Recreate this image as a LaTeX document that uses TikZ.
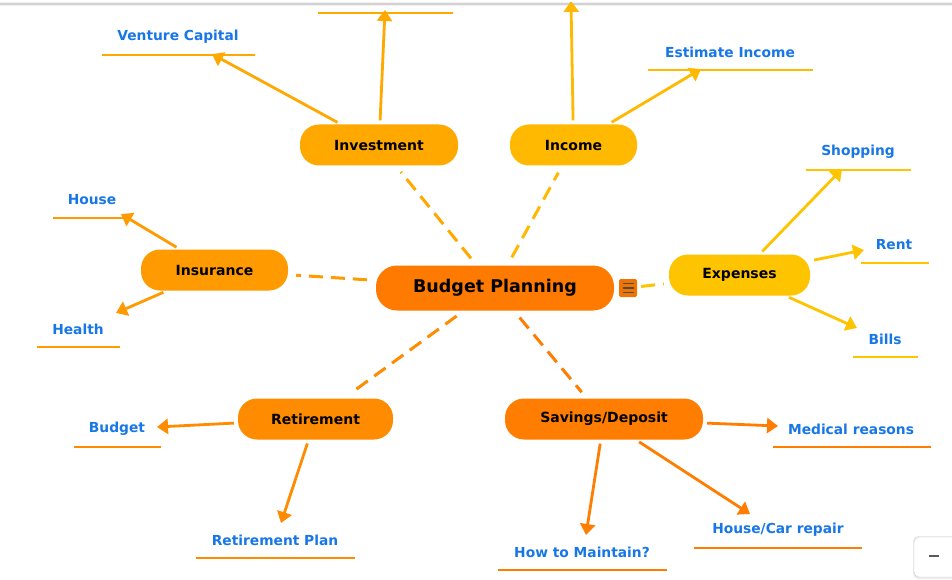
\documentclass[tikz,border=0pt]{standalone}
\usepackage{fontspec}
\setmainfont{DejaVu Sans}
\usetikzlibrary{arrows.meta}
\definecolor{cInv}{HTML}{FFA800}
\definecolor{cInc}{HTML}{FFB900}
\definecolor{cExp}{HTML}{FFC400}
\definecolor{cIns}{HTML}{FF9A00}
\definecolor{cRet}{HTML}{FF8B00}
\definecolor{cSav}{HTML}{FF7D00}
\definecolor{cCen}{HTML}{FF7A00}
\definecolor{cIcon}{HTML}{F27400}
\definecolor{cBlue}{HTML}{1877E6}
\tikzset{
  topic/.style={fill=#1, draw=none, rounded corners=19pt, minimum height=41pt,
    inner sep=0pt, text=black, font=\fontsize{14}{16}\selectfont\bfseries},
  leaf/.style={inner sep=0pt, text=cBlue, font=\fontsize{13.8}{16}\selectfont\bfseries},
  ul/.style={draw=#1, line width=2pt},
  dashlink/.style={draw=#1, line width=3pt, dash pattern=on 14pt off 8pt,
    shorten <=9pt, shorten >=8pt},
  arr/.style={draw=#1, line width=2.8pt, shorten <=4pt,
    -{Triangle[length=11pt,width=15pt]}},
}
\begin{document}
\begin{tikzpicture}[x=1pt,y=-1pt]
\useasboundingbox (0,0) rectangle (952,580);
\fill[white] (0,0) rectangle (952,580);
% top border
\fill[gray!12] (0,2) rectangle (952,6);
\draw[gray!35, line width=1.2pt] (0,4) -- (952,4);

% central topic
\node[topic=cCen, rounded corners=21pt, minimum width=238pt, minimum height=45pt,
  font=\fontsize{17.5}{20}\selectfont\bfseries] (center) at (495,288) {Budget Planning};
\node[fill=cIcon, rounded corners=2pt, minimum width=18pt, minimum height=18pt, inner sep=0pt] (icon) at (628,288) {};
\draw[black!70, line width=1.6pt] (622.5,283.5) -- (633.5,283.5) (622.5,288) -- (633.5,288) (622.5,292.5) -- (633.5,292.5);

% main topics
\node[topic=cInv, minimum width=158pt] (inv) at (379,145) {Investment};
\node[topic=cInc, minimum width=127pt] (inc) at (573.5,145) {Income};
\node[topic=cIns, minimum width=147pt] (ins) at (214.5,270) {Insurance};
\node[topic=cExp, minimum width=141pt] (exp) at (739.5,275) {Expenses};
\node[topic=cRet, minimum width=155pt] (ret) at (315.5,419) {Retirement};
\node[topic=cSav, minimum width=198pt] (sav) at (604,419) {Savings/Deposit};

% dashed links
\draw[dashlink=cInv] (center) -- (inv);
\draw[dashlink=cInc] (center) -- (inc);
\draw[dashlink=cIns] (center) -- (ins);
\draw[dashlink=cRet] (center) -- (ret);
\draw[dashlink=cSav] (center) -- (sav);
\draw[dashlink=cExp, shorten <=4pt, shorten >=5pt] (icon) -- (exp);

% leaves
\node[leaf] (vc) at (178,37) {Venture Capital};
\draw[ul=cInv] (102,55) -- (255,55);
\draw[ul=cInv] (318,13) -- (453,13);
\node[leaf] (ei) at (730,52) {Estimate Income};
\draw[ul=cInc] (648,70) -- (813,70);
\node[leaf] (shop) at (858,152) {Shopping};
\draw[ul=cExp] (806,170) -- (911,170);
\node[leaf] (rent) at (894,245) {Rent};
\draw[ul=cExp] (861,263) -- (929,263);
\node[leaf] (bills) at (885,339) {Bills};
\draw[ul=cExp] (853,357) -- (918,357);
\node[leaf] (house) at (92,200) {House};
\draw[ul=cIns] (53,218) -- (127,218);
\node[leaf] (health) at (78,329) {Health};
\draw[ul=cIns] (37,347) -- (120,347);
\node[leaf] (budget) at (117,429) {Budget};
\draw[ul=cRet] (74,447) -- (161,447);
\node[leaf] (rp) at (275,540) {Retirement Plan};
\draw[ul=cRet] (196,558) -- (355,558);
\node[leaf] (htm) at (582,552) {How to Maintain?};
\draw[ul=cSav] (498,570) -- (667,570);
\node[leaf] (hcr) at (778,530) {House/Car repair};
\draw[ul=cSav] (694,548) -- (862,548);
\node[leaf] (med) at (851,429) {Medical reasons};
\draw[ul=cSav] (773,447) -- (931,447);

% arrow end points
\coordinate (tVc) at (212,54);
\coordinate (tInvTop) at (385,10);
\coordinate (tIncTop) at (571,1);
\coordinate (tEi) at (701,69);
\coordinate (tShop) at (842,169);
\coordinate (tRent) at (864,250);
\coordinate (tBills) at (857,328);
\coordinate (tHouse) at (121,214);
\coordinate (tHealth) at (116,313);
\coordinate (tBudget) at (157,427);
\coordinate (tRp) at (281,523);
\coordinate (tHtm) at (586,535);
\coordinate (tHcr) at (750,514);
\coordinate (tMed) at (778,426);

\draw[arr=cInv] (inv) -- (tVc);
\draw[arr=cInv] (inv) -- (tInvTop);
\draw[arr=cInc] (inc) -- (tIncTop);
\draw[arr=cInc] (inc) -- (tEi);
\draw[arr=cExp] (exp) -- (tShop);
\draw[arr=cExp] (exp) -- (tRent);
\draw[arr=cExp] (exp) -- (tBills);
\draw[arr=cIns] (ins) -- (tHouse);
\draw[arr=cIns] (ins) -- (tHealth);
\draw[arr=cRet] (ret) -- (tBudget);
\draw[arr=cRet] (ret) -- (tRp);
\draw[arr=cSav] (sav) -- (tHtm);
\draw[arr=cSav] (sav) -- (tHcr);
\draw[arr=cSav] (sav) -- (tMed);

% top border over cut-off arrow
\fill[white] (0,0) rectangle (952,2);

% zoom button
\fill[gray!15, rounded corners=5pt] (913,536) rectangle (962,579);
\node[draw=gray!40, fill=white, rounded corners=5pt, minimum width=46pt, minimum height=40pt, inner sep=0pt] (zoombtn) at (937,557) {};
\draw[black!65, line width=1.5pt] (928.5,556) -- (938.5,556);
\end{tikzpicture}
\end{document}
